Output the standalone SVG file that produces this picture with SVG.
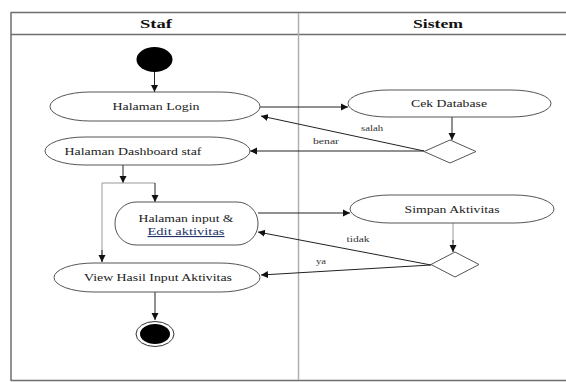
<svg xmlns="http://www.w3.org/2000/svg" width="566" height="382" viewBox="0 0 566 382">
<defs>
<style>
.frame{stroke:#6e6e6e;stroke-width:1.5;fill:none}
.lane{stroke:#b0b0b0;stroke-width:1.5;fill:none}
.node{fill:#fff;stroke:#555;stroke-width:1}
.t{font-family:"Liberation Serif","Times New Roman",serif;font-size:11px;fill:#222;text-anchor:middle}
.h{font-family:"Liberation Serif","Times New Roman",serif;font-size:13px;font-weight:bold;fill:#111;text-anchor:middle}
.lbl{font-family:"Liberation Serif","Times New Roman",serif;font-size:8px;fill:#333;text-anchor:middle}
.c{stroke:#222;stroke-width:1;fill:none}
.cl{stroke:#999;stroke-width:1;fill:none}
</style>
<marker id="ah" markerWidth="8" markerHeight="8" refX="7" refY="4" orient="auto" markerUnits="userSpaceOnUse">
<path d="M0,0.5 L7,4 L0,7.5 Z" fill="#111"/>
</marker>
</defs>
<rect width="566" height="382" fill="#fff"/>
<g id="frame">
<line class="frame" x1="11" y1="12.5" x2="566" y2="12.5"/>
<line class="frame" x1="11" y1="34.5" x2="566" y2="34.5"/>
<line class="frame" x1="11" y1="12" x2="11" y2="381"/>
<line class="frame" x1="11" y1="380.5" x2="566" y2="380.5"/>
<line class="lane" x1="298.5" y1="13" x2="298.5" y2="380"/>
<text class="h" x="156" y="28" textLength="32" lengthAdjust="spacingAndGlyphs">Staf</text>
<text class="h" x="438" y="28" textLength="50" lengthAdjust="spacingAndGlyphs">Sistem</text>
</g>
<g id="connectors">
<line class="c" x1="154.5" y1="72" x2="154.5" y2="92" marker-end="url(#ah)"/>
<line class="c" x1="260" y1="107" x2="348" y2="107" marker-end="url(#ah)"/>
<line class="c" x1="452" y1="117" x2="452" y2="140" marker-end="url(#ah)"/>
<line class="c" x1="424" y1="151" x2="261" y2="116" marker-end="url(#ah)"/>
<text class="lbl" x="372" y="131" textLength="22" lengthAdjust="spacingAndGlyphs">salah</text>
<line class="c" x1="424" y1="151" x2="250" y2="151" marker-end="url(#ah)"/>
<text class="lbl" x="326" y="144" textLength="26" lengthAdjust="spacingAndGlyphs">benar</text>
<line class="c" x1="123" y1="165" x2="123" y2="183" marker-end="url(#ah)"/>
<polyline class="cl" points="102,262 102,183 155,183"/>
<line class="c" x1="102" y1="250" x2="102" y2="262" marker-end="url(#ah)"/>
<line class="c" x1="155" y1="183" x2="155" y2="202" marker-end="url(#ah)"/>
<line class="c" x1="258" y1="213" x2="350" y2="213" marker-end="url(#ah)"/>
<line class="cl" x1="453" y1="223" x2="453" y2="243"/>
<line class="c" x1="453" y1="240" x2="453" y2="252" marker-end="url(#ah)"/>
<line class="c" x1="431" y1="265" x2="258" y2="232" marker-end="url(#ah)"/>
<text class="lbl" x="358" y="242" textLength="23" lengthAdjust="spacingAndGlyphs">tidak</text>
<line class="c" x1="431" y1="265" x2="261" y2="275" marker-end="url(#ah)"/>
<text class="lbl" x="321" y="264" textLength="10" lengthAdjust="spacingAndGlyphs">ya</text>
<line class="c" x1="155" y1="292" x2="155" y2="320" marker-end="url(#ah)"/>
</g>
<g id="start">
<ellipse cx="154.5" cy="59.5" rx="18" ry="12.5" fill="#000"/>
</g>
<g id="halaman-login">
<rect class="node" x="50" y="92" width="210" height="29" rx="40" ry="14.5"/>
<text class="t" x="156" y="109.5" textLength="87" lengthAdjust="spacingAndGlyphs">Halaman Login</text>
</g>
<g id="cek-database">
<rect class="node" x="348" y="90" width="203" height="27" rx="40" ry="13.5"/>
<text class="t" x="449" y="107" textLength="76" lengthAdjust="spacingAndGlyphs">Cek Database</text>
</g>
<g id="decision-1">
<polygon class="node" points="450,140 476,151.5 450,163 424,151.5"/>
</g>
<g id="halaman-dashboard">
<rect class="node" x="45" y="137" width="205" height="28" rx="40" ry="14"/>
<text class="t" x="133" y="154.5" textLength="137" lengthAdjust="spacingAndGlyphs">Halaman Dashboard staf</text>
</g>
<g id="halaman-input">
<rect class="node" x="115" y="202" width="143" height="43" rx="21"/>
<text class="t" x="186" y="221.5" textLength="95" lengthAdjust="spacingAndGlyphs">Halaman input &amp;</text>
<text class="t" x="186" y="235" textLength="77" lengthAdjust="spacingAndGlyphs" text-decoration="underline" style="fill:#223366">Edit  aktivitas</text>
</g>
<g id="simpan-aktivitas">
<rect class="node" x="350" y="195" width="204" height="28" rx="40" ry="14"/>
<text class="t" x="452" y="212.5" textLength="95" lengthAdjust="spacingAndGlyphs">Simpan Aktivitas</text>
</g>
<g id="decision-2">
<polygon class="node" points="455,252 479,264.5 455,277 431,264.5"/>
</g>
<g id="view-hasil">
<rect class="node" x="54" y="263" width="206" height="29" rx="40" ry="14.5"/>
<text class="t" x="158" y="281" textLength="148" lengthAdjust="spacingAndGlyphs">View Hasil Input Aktivitas</text>
</g>
<g id="end">
<ellipse cx="155" cy="334" rx="19" ry="12.5" fill="#fff" stroke="#333" stroke-width="1"/>
<ellipse cx="155" cy="334" rx="15" ry="10" fill="#000"/>
</g>
</svg>
